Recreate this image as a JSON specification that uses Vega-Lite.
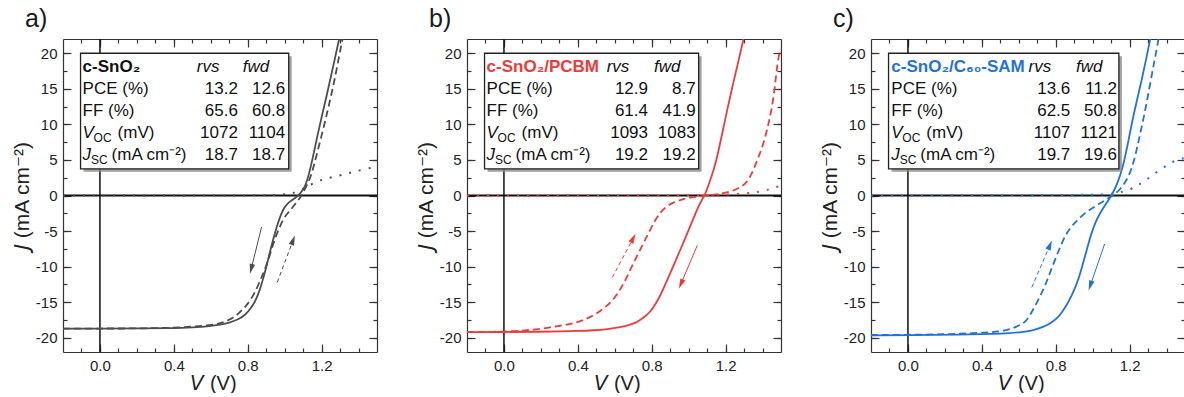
{
  "$schema": "https://vega.github.io/schema/vega-lite/v6.json",
  "padding": {"left": 11, "top": 7, "right": 0, "bottom": 0},
  "spacing": 37,
  "config": {
    "font": "Liberation Sans",
    "view": {"stroke": null},
    "axis": {"grid": false, "domainColor": "#333", "domainWidth": 1.2, "tickColor": "#333", "tickWidth": 1.2, "tickSize": -4, "labelPadding": 10, "labelFont": "Liberation Sans", "labelFontSize": 15, "labelColor": "#222", "labelOverlap": false, "labelFlush": false, "titleFont": "Liberation Sans", "titleFontWeight": "normal", "titleColor": "#222"},
    "axisX": {"titleFontSize": 20, "titlePadding": 0, "titleX": 150},
    "axisY": {"titleFontSize": 21, "titlePadding": 3},
    "title": {"anchor": "start", "frame": "group", "dx": -38, "fontSize": 25, "fontWeight": "normal", "font": "Liberation Sans", "color": "#1a1a1a", "offset": 6},
    "text": {"font": "Liberation Sans", "fontSize": 17, "baseline": "middle", "color": "#111"},
    "line": {"interpolate": "basis"}
  },
  "datasets": {
    "curves": [
      {"p":"a","s":"rvs","V":-0.2,"J":-18.7},{"p":"a","s":"rvs","V":0.0,"J":-18.7},{"p":"a","s":"rvs","V":0.2,"J":-18.7},{"p":"a","s":"rvs","V":0.4,"J":-18.65},{"p":"a","s":"rvs","V":0.5,"J":-18.55},{"p":"a","s":"rvs","V":0.6,"J":-18.35},{"p":"a","s":"rvs","V":0.65,"J":-18.15},{"p":"a","s":"rvs","V":0.7,"J":-17.9},{"p":"a","s":"rvs","V":0.75,"J":-17.4},{"p":"a","s":"rvs","V":0.785,"J":-16.85},{"p":"a","s":"rvs","V":0.82,"J":-15.8},{"p":"a","s":"rvs","V":0.848,"J":-14.5},{"p":"a","s":"rvs","V":0.866,"J":-13.2},{"p":"a","s":"rvs","V":0.884,"J":-11.7},{"p":"a","s":"rvs","V":0.902,"J":-9.9},{"p":"a","s":"rvs","V":0.92,"J":-7.95},{"p":"a","s":"rvs","V":0.94,"J":-6.0},{"p":"a","s":"rvs","V":0.957,"J":-4.4},{"p":"a","s":"rvs","V":0.975,"J":-3.0},{"p":"a","s":"rvs","V":0.993,"J":-1.87},{"p":"a","s":"rvs","V":1.015,"J":-1.1},{"p":"a","s":"rvs","V":1.038,"J":-0.7},{"p":"a","s":"rvs","V":1.056,"J":-0.35},{"p":"a","s":"rvs","V":1.074,"J":0.0},{"p":"a","s":"rvs","V":1.092,"J":0.55},{"p":"a","s":"rvs","V":1.11,"J":1.2},{"p":"a","s":"rvs","V":1.13,"J":2.8},{"p":"a","s":"rvs","V":1.15,"J":5.0},{"p":"a","s":"rvs","V":1.173,"J":7.9},{"p":"a","s":"rvs","V":1.2,"J":11.0},{"p":"a","s":"rvs","V":1.227,"J":14.0},{"p":"a","s":"rvs","V":1.26,"J":17.8},{"p":"a","s":"rvs","V":1.295,"J":22.0},{"p":"a","s":"rvs","V":1.31,"J":23.8},
      {"p":"a","s":"fwd","V":-0.2,"J":-18.7},{"p":"a","s":"fwd","V":0.0,"J":-18.7},{"p":"a","s":"fwd","V":0.2,"J":-18.7},{"p":"a","s":"fwd","V":0.4,"J":-18.6},{"p":"a","s":"fwd","V":0.5,"J":-18.45},{"p":"a","s":"fwd","V":0.6,"J":-18.2},{"p":"a","s":"fwd","V":0.65,"J":-18.0},{"p":"a","s":"fwd","V":0.7,"J":-17.5},{"p":"a","s":"fwd","V":0.74,"J":-16.85},{"p":"a","s":"fwd","V":0.77,"J":-16.1},{"p":"a","s":"fwd","V":0.794,"J":-15.45},{"p":"a","s":"fwd","V":0.83,"J":-14.1},{"p":"a","s":"fwd","V":0.857,"J":-12.6},{"p":"a","s":"fwd","V":0.88,"J":-11.2},{"p":"a","s":"fwd","V":0.902,"J":-9.8},{"p":"a","s":"fwd","V":0.925,"J":-7.9},{"p":"a","s":"fwd","V":0.947,"J":-6.1},{"p":"a","s":"fwd","V":0.97,"J":-4.6},{"p":"a","s":"fwd","V":0.993,"J":-3.3},{"p":"a","s":"fwd","V":1.015,"J":-2.5},{"p":"a","s":"fwd","V":1.038,"J":-1.87},{"p":"a","s":"fwd","V":1.056,"J":-1.2},{"p":"a","s":"fwd","V":1.074,"J":-0.65},{"p":"a","s":"fwd","V":1.088,"J":-0.15},{"p":"a","s":"fwd","V":1.101,"J":0.47},{"p":"a","s":"fwd","V":1.12,"J":1.4},{"p":"a","s":"fwd","V":1.137,"J":2.4},{"p":"a","s":"fwd","V":1.15,"J":3.4},{"p":"a","s":"fwd","V":1.17,"J":5.4},{"p":"a","s":"fwd","V":1.2,"J":8.4},{"p":"a","s":"fwd","V":1.227,"J":11.3},{"p":"a","s":"fwd","V":1.254,"J":14.3},{"p":"a","s":"fwd","V":1.28,"J":17.5},{"p":"a","s":"fwd","V":1.309,"J":21.5},{"p":"a","s":"fwd","V":1.325,"J":23.5},
      {"p":"a","s":"dark","V":-0.2,"J":0},{"p":"a","s":"dark","V":0.6,"J":0},{"p":"a","s":"dark","V":0.9,"J":0.02},{"p":"a","s":"dark","V":1.0,"J":0.12},{"p":"a","s":"dark","V":1.05,"J":0.35},{"p":"a","s":"dark","V":1.1,"J":0.9},{"p":"a","s":"dark","V":1.15,"J":1.7},{"p":"a","s":"dark","V":1.21,"J":2.3},{"p":"a","s":"dark","V":1.26,"J":2.6},{"p":"a","s":"dark","V":1.32,"J":2.95},{"p":"a","s":"dark","V":1.37,"J":3.3},{"p":"a","s":"dark","V":1.43,"J":3.7},{"p":"a","s":"dark","V":1.5,"J":4.05},
      {"p":"b","s":"rvs","V":-0.2,"J":-19.2},{"p":"b","s":"rvs","V":0.0,"J":-19.2},{"p":"b","s":"rvs","V":0.2,"J":-19.15},{"p":"b","s":"rvs","V":0.307,"J":-19.1},{"p":"b","s":"rvs","V":0.4,"J":-19.05},{"p":"b","s":"rvs","V":0.487,"J":-18.95},{"p":"b","s":"rvs","V":0.56,"J":-18.8},{"p":"b","s":"rvs","V":0.632,"J":-18.5},{"p":"b","s":"rvs","V":0.68,"J":-18.2},{"p":"b","s":"rvs","V":0.722,"J":-17.8},{"p":"b","s":"rvs","V":0.76,"J":-17.1},{"p":"b","s":"rvs","V":0.794,"J":-16.3},{"p":"b","s":"rvs","V":0.82,"J":-15.3},{"p":"b","s":"rvs","V":0.848,"J":-14.0},{"p":"b","s":"rvs","V":0.875,"J":-12.4},{"p":"b","s":"rvs","V":0.903,"J":-10.8},{"p":"b","s":"rvs","V":0.93,"J":-9.1},{"p":"b","s":"rvs","V":0.957,"J":-7.5},{"p":"b","s":"rvs","V":0.985,"J":-5.8},{"p":"b","s":"rvs","V":1.01,"J":-4.2},{"p":"b","s":"rvs","V":1.03,"J":-3.0},{"p":"b","s":"rvs","V":1.047,"J":-1.87},{"p":"b","s":"rvs","V":1.065,"J":-0.95},{"p":"b","s":"rvs","V":1.09,"J":0.2},{"p":"b","s":"rvs","V":1.11,"J":1.6},{"p":"b","s":"rvs","V":1.137,"J":3.7},{"p":"b","s":"rvs","V":1.155,"J":5.5},{"p":"b","s":"rvs","V":1.18,"J":8.5},{"p":"b","s":"rvs","V":1.21,"J":12.2},{"p":"b","s":"rvs","V":1.237,"J":15.3},{"p":"b","s":"rvs","V":1.264,"J":18.3},{"p":"b","s":"rvs","V":1.3,"J":22.3},{"p":"b","s":"rvs","V":1.31,"J":23.5},
      {"p":"b","s":"fwd","V":-0.2,"J":-19.2},{"p":"b","s":"fwd","V":0.0,"J":-19.15},{"p":"b","s":"fwd","V":0.1,"J":-19.0},{"p":"b","s":"fwd","V":0.2,"J":-18.75},{"p":"b","s":"fwd","V":0.307,"J":-18.3},{"p":"b","s":"fwd","V":0.397,"J":-17.9},{"p":"b","s":"fwd","V":0.487,"J":-16.9},{"p":"b","s":"fwd","V":0.56,"J":-15.5},{"p":"b","s":"fwd","V":0.6,"J":-14.4},{"p":"b","s":"fwd","V":0.632,"J":-13.1},{"p":"b","s":"fwd","V":0.66,"J":-11.8},{"p":"b","s":"fwd","V":0.686,"J":-10.3},{"p":"b","s":"fwd","V":0.713,"J":-8.9},{"p":"b","s":"fwd","V":0.74,"J":-7.5},{"p":"b","s":"fwd","V":0.767,"J":-6.1},{"p":"b","s":"fwd","V":0.794,"J":-4.7},{"p":"b","s":"fwd","V":0.82,"J":-3.4},{"p":"b","s":"fwd","V":0.848,"J":-2.34},{"p":"b","s":"fwd","V":0.88,"J":-1.5},{"p":"b","s":"fwd","V":0.92,"J":-0.94},{"p":"b","s":"fwd","V":0.96,"J":-0.6},{"p":"b","s":"fwd","V":0.993,"J":-0.37},{"p":"b","s":"fwd","V":1.04,"J":-0.2},{"p":"b","s":"fwd","V":1.083,"J":-0.05},{"p":"b","s":"fwd","V":1.13,"J":0.1},{"p":"b","s":"fwd","V":1.173,"J":0.25},{"p":"b","s":"fwd","V":1.22,"J":0.5},{"p":"b","s":"fwd","V":1.264,"J":0.94},{"p":"b","s":"fwd","V":1.295,"J":1.4},{"p":"b","s":"fwd","V":1.318,"J":1.95},{"p":"b","s":"fwd","V":1.336,"J":2.8},{"p":"b","s":"fwd","V":1.354,"J":3.8},{"p":"b","s":"fwd","V":1.38,"J":5.5},{"p":"b","s":"fwd","V":1.408,"J":7.5},{"p":"b","s":"fwd","V":1.43,"J":9.8},{"p":"b","s":"fwd","V":1.453,"J":12.6},{"p":"b","s":"fwd","V":1.468,"J":15.5},{"p":"b","s":"fwd","V":1.48,"J":18.5},{"p":"b","s":"fwd","V":1.495,"J":20.5},
      {"p":"b","s":"dark","V":-0.2,"J":0},{"p":"b","s":"dark","V":1.2,"J":0.02},{"p":"b","s":"dark","V":1.28,"J":0.25},{"p":"b","s":"dark","V":1.35,"J":0.4},{"p":"b","s":"dark","V":1.41,"J":0.65},{"p":"b","s":"dark","V":1.45,"J":1.0},{"p":"b","s":"dark","V":1.495,"J":1.35},
      {"p":"c","s":"rvs","V":-0.2,"J":-19.65},{"p":"c","s":"rvs","V":0.0,"J":-19.65},{"p":"c","s":"rvs","V":0.292,"J":-19.55},{"p":"c","s":"rvs","V":0.473,"J":-19.45},{"p":"c","s":"rvs","V":0.55,"J":-19.35},{"p":"c","s":"rvs","V":0.617,"J":-19.2},{"p":"c","s":"rvs","V":0.67,"J":-19.0},{"p":"c","s":"rvs","V":0.708,"J":-18.7},{"p":"c","s":"rvs","V":0.75,"J":-18.3},{"p":"c","s":"rvs","V":0.78,"J":-17.8},{"p":"c","s":"rvs","V":0.81,"J":-17.2},{"p":"c","s":"rvs","V":0.834,"J":-16.4},{"p":"c","s":"rvs","V":0.86,"J":-15.4},{"p":"c","s":"rvs","V":0.888,"J":-14.0},{"p":"c","s":"rvs","V":0.906,"J":-12.9},{"p":"c","s":"rvs","V":0.924,"J":-11.7},{"p":"c","s":"rvs","V":0.942,"J":-10.1},{"p":"c","s":"rvs","V":0.96,"J":-8.4},{"p":"c","s":"rvs","V":0.978,"J":-6.7},{"p":"c","s":"rvs","V":0.996,"J":-5.1},{"p":"c","s":"rvs","V":1.015,"J":-3.8},{"p":"c","s":"rvs","V":1.033,"J":-2.8},{"p":"c","s":"rvs","V":1.055,"J":-1.85},{"p":"c","s":"rvs","V":1.078,"J":-0.94},{"p":"c","s":"rvs","V":1.105,"J":0.1},{"p":"c","s":"rvs","V":1.132,"J":1.6},{"p":"c","s":"rvs","V":1.15,"J":2.9},{"p":"c","s":"rvs","V":1.168,"J":4.5},{"p":"c","s":"rvs","V":1.19,"J":7.2},{"p":"c","s":"rvs","V":1.213,"J":10.3},{"p":"c","s":"rvs","V":1.24,"J":13.4},{"p":"c","s":"rvs","V":1.267,"J":16.4},{"p":"c","s":"rvs","V":1.29,"J":19.2},{"p":"c","s":"rvs","V":1.312,"J":22.0},{"p":"c","s":"rvs","V":1.32,"J":23.2},
      {"p":"c","s":"fwd","V":-0.2,"J":-19.6},{"p":"c","s":"fwd","V":0.0,"J":-19.6},{"p":"c","s":"fwd","V":0.292,"J":-19.45},{"p":"c","s":"fwd","V":0.473,"J":-19.2},{"p":"c","s":"fwd","V":0.52,"J":-19.0},{"p":"c","s":"fwd","V":0.563,"J":-18.7},{"p":"c","s":"fwd","V":0.6,"J":-18.3},{"p":"c","s":"fwd","V":0.635,"J":-17.8},{"p":"c","s":"fwd","V":0.66,"J":-16.9},{"p":"c","s":"fwd","V":0.69,"J":-15.45},{"p":"c","s":"fwd","V":0.717,"J":-14.1},{"p":"c","s":"fwd","V":0.744,"J":-12.6},{"p":"c","s":"fwd","V":0.77,"J":-10.8},{"p":"c","s":"fwd","V":0.798,"J":-8.9},{"p":"c","s":"fwd","V":0.825,"J":-7.2},{"p":"c","s":"fwd","V":0.852,"J":-5.6},{"p":"c","s":"fwd","V":0.88,"J":-4.5},{"p":"c","s":"fwd","V":0.906,"J":-3.75},{"p":"c","s":"fwd","V":0.94,"J":-2.9},{"p":"c","s":"fwd","V":0.978,"J":-2.1},{"p":"c","s":"fwd","V":1.015,"J":-1.5},{"p":"c","s":"fwd","V":1.05,"J":-0.94},{"p":"c","s":"fwd","V":1.085,"J":-0.4},{"p":"c","s":"fwd","V":1.122,"J":0.23},{"p":"c","s":"fwd","V":1.15,"J":0.9},{"p":"c","s":"fwd","V":1.177,"J":1.88},{"p":"c","s":"fwd","V":1.2,"J":3.0},{"p":"c","s":"fwd","V":1.22,"J":4.5},{"p":"c","s":"fwd","V":1.24,"J":6.6},{"p":"c","s":"fwd","V":1.26,"J":9.0},{"p":"c","s":"fwd","V":1.285,"J":12.0},{"p":"c","s":"fwd","V":1.31,"J":15.5},{"p":"c","s":"fwd","V":1.335,"J":19.0},{"p":"c","s":"fwd","V":1.357,"J":22.0},{"p":"c","s":"fwd","V":1.365,"J":23.3},
      {"p":"c","s":"dark","V":-0.2,"J":0},{"p":"c","s":"dark","V":1.0,"J":0.05},{"p":"c","s":"dark","V":1.1,"J":0.2},{"p":"c","s":"dark","V":1.16,"J":0.5},{"p":"c","s":"dark","V":1.21,"J":0.9},{"p":"c","s":"dark","V":1.24,"J":1.4},{"p":"c","s":"dark","V":1.27,"J":1.8},{"p":"c","s":"dark","V":1.3,"J":2.4},{"p":"c","s":"dark","V":1.33,"J":3.0},{"p":"c","s":"dark","V":1.375,"J":3.75},{"p":"c","s":"dark","V":1.415,"J":4.5},{"p":"c","s":"dark","V":1.456,"J":5.0},{"p":"c","s":"dark","V":1.5,"J":5.3}
    ],
    "arrows": [
      {"p":"a","k":"rvs","o":0,"V":0.875,"J":-4.44},{"p":"a","k":"rvs","o":1,"V":0.819,"J":-10.32},
      {"p":"a","k":"fwd","o":0,"V":0.96,"J":-12.2},{"p":"a","k":"fwd","o":1,"V":1.046,"J":-6.28},
      {"p":"b","k":"rvs","o":0,"V":1.047,"J":-7.0},{"p":"b","k":"rvs","o":1,"V":0.958,"J":-12.46},
      {"p":"b","k":"fwd","o":0,"V":0.587,"J":-11.5},{"p":"b","k":"fwd","o":1,"V":0.7,"J":-6.0},
      {"p":"c","k":"rvs","o":0,"V":1.065,"J":-6.8},{"p":"c","k":"rvs","o":1,"V":0.987,"J":-12.68},
      {"p":"c","k":"fwd","o":0,"V":0.671,"J":-12.9},{"p":"c","k":"fwd","o":1,"V":0.769,"J":-6.97}
    ],
    "tables": [
      {"p":"a","m":"head","name":"c-SnO₂"},
      {"p":"a","m":"PCE","label":"PCE (%)","rvs":"13.2","fwd":"12.6"},
      {"p":"a","m":"FF","label":"FF (%)","rvs":"65.6","fwd":"60.8"},
      {"p":"a","m":"VOC","sym":"V","sub":"OC","unit":"(mV)","rvs":"1072","fwd":"1104"},
      {"p":"a","m":"JSC","sym":"J","sub":"SC","unit":"(mA cm⁻²)","rvs":"18.7","fwd":"18.7"},
      {"p":"b","m":"head","name":"c-SnO₂/PCBM"},
      {"p":"b","m":"PCE","label":"PCE (%)","rvs":"12.9","fwd":"8.7"},
      {"p":"b","m":"FF","label":"FF (%)","rvs":"61.4","fwd":"41.9"},
      {"p":"b","m":"VOC","sym":"V","sub":"OC","unit":"(mV)","rvs":"1093","fwd":"1083"},
      {"p":"b","m":"JSC","sym":"J","sub":"SC","unit":"(mA cm⁻²)","rvs":"19.2","fwd":"19.2"},
      {"p":"c","m":"head","name":"c-SnO₂/C₆₀-SAM"},
      {"p":"c","m":"PCE","label":"PCE (%)","rvs":"13.6","fwd":"11.2"},
      {"p":"c","m":"FF","label":"FF (%)","rvs":"62.5","fwd":"50.8"},
      {"p":"c","m":"VOC","sym":"V","sub":"OC","unit":"(mV)","rvs":"1107","fwd":"1121"},
      {"p":"c","m":"JSC","sym":"J","sub":"SC","unit":"(mA cm⁻²)","rvs":"19.7","fwd":"19.6"}
    ]
  },
  "hconcat": [
    {
      "width": 314, "height": 313,
      "title": {"text": "a)"},
      "resolve": {"scale": {"y": "independent"}, "axis": {"x": "independent", "y": "independent"}},
      "layer": [
        {
          "resolve": {"axis": {"x": "independent", "y": "independent"}},
          "layer": [
            {"data": {"values": [{}]}, "mark": {"type": "rule", "color": "#111", "strokeWidth": 2}, "encoding": {"y": {"datum": 0, "type": "quantitative", "axis": null, "scale": {"domain": [-22, 22], "nice": false, "zero": false}}}},
            {"data": {"values": [{}]}, "mark": {"type": "rule", "color": "#111", "strokeWidth": 1.5}, "encoding": {"x": {"datum": 0, "type": "quantitative", "axis": null, "scale": {"domain": [-0.2, 1.5], "nice": false, "zero": false}}}},
            {"data": {"name": "curves"}, "transform": [{"filter": "datum.p == 'a' && datum.s == 'dark'"}], "mark": {"type": "line", "clip": true, "color": "#4d4d4d", "strokeWidth": 2, "strokeDash": [2, 8]}, "encoding": {"x": {"field": "V", "type": "quantitative", "axis": {"orient": "bottom", "values": [0, 0.4, 0.8, 1.2], "tickSize": -8, "labels": false, "domain": false, "title": null}}, "y": {"field": "J", "type": "quantitative", "axis": {"orient": "left", "values": [-20,-15,-10,-5,0,5,10,15,20], "tickSize": -8, "labels": false, "domain": false, "title": null}}}},
            {"data": {"name": "curves"}, "transform": [{"filter": "datum.p == 'a' && datum.s == 'fwd'"}], "mark": {"type": "line", "clip": true, "color": "#4d4d4d", "strokeWidth": 1.8, "strokeDash": [7, 4]}, "encoding": {"x": {"field": "V", "type": "quantitative", "axis": {"orient": "top", "values": [-0.1,0,0.1,0.2,0.3,0.4,0.5,0.6,0.7,0.8,0.9,1,1.1,1.2,1.3,1.4], "labels": false, "title": null}}, "y": {"field": "J", "type": "quantitative", "axis": {"orient": "right", "values": [-20,-17.5,-15,-12.5,-10,-7.5,-5,-2.5,0,2.5,5,7.5,10,12.5,15,17.5,20], "labels": false, "title": null}}}},
            {"data": {"name": "curves"}, "transform": [{"filter": "datum.p == 'a' && datum.s == 'rvs'"}], "mark": {"type": "line", "clip": true, "color": "#4d4d4d", "strokeWidth": 1.8}, "encoding": {"x": {"field": "V", "type": "quantitative", "scale": {"domain": [-0.2, 1.5], "nice": false, "zero": false}, "axis": {"orient": "bottom", "values": [-0.1,0,0.1,0.2,0.3,0.4,0.5,0.6,0.7,0.8,0.9,1,1.1,1.2,1.3,1.4], "labelExpr": "round(datum.value*10) % 4 == 0 ? format(datum.value, '.1f') : ''", "title": "𝘝 (V)"}}, "y": {"field": "J", "type": "quantitative", "scale": {"domain": [-22, 22], "nice": false, "zero": false}, "axis": {"orient": "left", "values": [-20,-17.5,-15,-12.5,-10,-7.5,-5,-2.5,0,2.5,5,7.5,10,12.5,15,17.5,20], "labelExpr": "datum.value % 5 == 0 ? toString(datum.value) : ''", "title": "𝘑 (mA cm⁻²)"}}}},
            {"data": {"name": "arrows"}, "transform": [{"filter": "datum.p == 'a' && datum.k == 'rvs'"}], "mark": {"type": "line", "interpolate": "linear", "color": "#4d4d4d", "strokeWidth": 1}, "encoding": {"x": {"field": "V", "type": "quantitative", "axis": {"orient": "top", "values": [0, 0.4, 0.8, 1.2], "tickSize": -8, "labels": false, "domain": false, "title": null}}, "y": {"field": "J", "type": "quantitative", "axis": {"orient": "right", "values": [-20,-15,-10,-5,0,5,10,15,20], "tickSize": -8, "labels": false, "domain": false, "title": null}}, "order": {"field": "o"}}},
            {"data": {"name": "arrows"}, "transform": [{"filter": "datum.p == 'a' && datum.k == 'fwd'"}], "mark": {"type": "line", "interpolate": "linear", "color": "#4d4d4d", "strokeWidth": 1, "strokeDash": [4, 3]}, "encoding": {"x": {"field": "V", "type": "quantitative", "axis": null}, "y": {"field": "J", "type": "quantitative", "axis": null}, "order": {"field": "o"}}},
            {"data": {"name": "arrows"}, "transform": [{"filter": "datum.p == 'a' && datum.k == 'rvs' && datum.o == 1"}], "mark": {"type": "point", "shape": "M0,-1L0.55,1L-0.55,1Z", "filled": true, "opacity": 1, "color": "#4d4d4d", "size": 100, "angle": 194}, "encoding": {"x": {"field": "V", "type": "quantitative", "axis": null}, "y": {"field": "J", "type": "quantitative", "axis": null}}},
            {"data": {"name": "arrows"}, "transform": [{"filter": "datum.p == 'a' && datum.k == 'fwd' && datum.o == 1"}], "mark": {"type": "point", "shape": "M0,-1L0.55,1L-0.55,1Z", "filled": true, "opacity": 1, "color": "#4d4d4d", "size": 100, "angle": 21}, "encoding": {"x": {"field": "V", "type": "quantitative", "axis": null}, "y": {"field": "J", "type": "quantitative", "axis": null}}},
            {"data": {"values": [{}]}, "mark": {"type": "rect", "fill": "#8a8a8a", "opacity": 0.8, "xOffset": 3, "x2Offset": 3, "yOffset": 3, "y2Offset": 3}, "encoding": {"x": {"datum": -0.105, "type": "quantitative", "axis": null}, "x2": {"datum": 1.022}, "y": {"datum": 20.0, "type": "quantitative", "axis": null}, "y2": {"datum": 3.75}}},
            {"data": {"values": [{}]}, "mark": {"type": "rect", "fill": "#ffffff", "stroke": "#222", "strokeWidth": 1.3}, "encoding": {"x": {"datum": -0.105, "type": "quantitative", "axis": null}, "x2": {"datum": 1.022}, "y": {"datum": 20.0, "type": "quantitative", "axis": null}, "y2": {"datum": 3.75}}}
          ]
        },
        {
          "data": {"name": "tables"},
          "transform": [{"filter": "datum.p == 'a'"}],
          "encoding": {"y": {"field": "m", "type": "ordinal", "scale": {"type": "point", "domain": ["head","PCE","FF","VOC","JSC"], "range": [28, 116], "padding": 0}, "axis": null}},
          "layer": [
            {"transform": [{"filter": "datum.m == 'head'"}], "mark": {"type": "text", "align": "left", "fontWeight": "bold", "color": "#111"}, "encoding": {"x": {"datum": -0.094, "type": "quantitative", "axis": null}, "text": {"field": "name", "type": "nominal"}}},
            {"transform": [{"filter": "datum.m == 'head'"}], "mark": {"type": "text", "align": "left", "fontStyle": "italic"}, "encoding": {"x": {"datum": 0.524, "type": "quantitative", "axis": null}, "text": {"value": "rvs"}}},
            {"transform": [{"filter": "datum.m == 'head'"}], "mark": {"type": "text", "align": "left", "fontStyle": "italic"}, "encoding": {"x": {"datum": 0.773, "type": "quantitative", "axis": null}, "text": {"value": "fwd"}}},
            {"transform": [{"filter": "isValid(datum.label)"}], "mark": {"type": "text", "align": "left"}, "encoding": {"x": {"datum": -0.094, "type": "quantitative", "axis": null}, "text": {"field": "label", "type": "nominal"}}},
            {"transform": [{"filter": "isValid(datum.sym)"}], "mark": {"type": "text", "align": "left", "fontStyle": "italic"}, "encoding": {"x": {"datum": -0.094, "type": "quantitative", "axis": null}, "text": {"field": "sym", "type": "nominal"}}},
            {"transform": [{"filter": "datum.m == 'VOC'"}], "mark": {"type": "text", "align": "left", "fontSize": 12, "dx": 11, "dy": 5}, "encoding": {"x": {"datum": -0.094, "type": "quantitative", "axis": null}, "text": {"field": "sub", "type": "nominal"}}},
            {"transform": [{"filter": "datum.m == 'JSC'"}], "mark": {"type": "text", "align": "left", "fontSize": 12, "dx": 8.5, "dy": 5}, "encoding": {"x": {"datum": -0.094, "type": "quantitative", "axis": null}, "text": {"field": "sub", "type": "nominal"}}},
            {"transform": [{"filter": "datum.m == 'VOC'"}], "mark": {"type": "text", "align": "left", "dx": 35}, "encoding": {"x": {"datum": -0.094, "type": "quantitative", "axis": null}, "text": {"field": "unit", "type": "nominal"}}},
            {"transform": [{"filter": "datum.m == 'JSC'"}], "mark": {"type": "text", "align": "left", "dx": 29}, "encoding": {"x": {"datum": -0.094, "type": "quantitative", "axis": null}, "text": {"field": "unit", "type": "nominal"}}},
            {"transform": [{"filter": "datum.m != 'head'"}], "mark": {"type": "text", "align": "right"}, "encoding": {"x": {"datum": 0.747, "type": "quantitative", "axis": null}, "text": {"field": "rvs", "type": "nominal"}}},
            {"transform": [{"filter": "datum.m != 'head'"}], "mark": {"type": "text", "align": "right"}, "encoding": {"x": {"datum": 1.003, "type": "quantitative", "axis": null}, "text": {"field": "fwd", "type": "nominal"}}}
          ]
        }
      ]
    },
    {
      "width": 314, "height": 313,
      "title": {"text": "b)"},
      "resolve": {"scale": {"y": "independent"}, "axis": {"x": "independent", "y": "independent"}},
      "layer": [
        {
          "resolve": {"axis": {"x": "independent", "y": "independent"}},
          "layer": [
            {"data": {"values": [{}]}, "mark": {"type": "rule", "color": "#111", "strokeWidth": 2}, "encoding": {"y": {"datum": 0, "type": "quantitative", "axis": null, "scale": {"domain": [-22, 22], "nice": false, "zero": false}}}},
            {"data": {"values": [{}]}, "mark": {"type": "rule", "color": "#111", "strokeWidth": 1.5}, "encoding": {"x": {"datum": 0, "type": "quantitative", "axis": null, "scale": {"domain": [-0.2, 1.5], "nice": false, "zero": false}}}},
            {"data": {"name": "curves"}, "transform": [{"filter": "datum.p == 'b' && datum.s == 'dark'"}], "mark": {"type": "line", "clip": true, "color": "#ec3b3b", "strokeWidth": 2, "strokeDash": [2, 8]}, "encoding": {"x": {"field": "V", "type": "quantitative", "axis": {"orient": "bottom", "values": [0, 0.4, 0.8, 1.2], "tickSize": -8, "labels": false, "domain": false, "title": null}}, "y": {"field": "J", "type": "quantitative", "axis": {"orient": "left", "values": [-20,-15,-10,-5,0,5,10,15,20], "tickSize": -8, "labels": false, "domain": false, "title": null}}}},
            {"data": {"name": "curves"}, "transform": [{"filter": "datum.p == 'b' && datum.s == 'fwd'"}], "mark": {"type": "line", "clip": true, "color": "#ec3b3b", "strokeWidth": 1.8, "strokeDash": [7, 4]}, "encoding": {"x": {"field": "V", "type": "quantitative", "axis": {"orient": "top", "values": [-0.1,0,0.1,0.2,0.3,0.4,0.5,0.6,0.7,0.8,0.9,1,1.1,1.2,1.3,1.4], "labels": false, "title": null}}, "y": {"field": "J", "type": "quantitative", "axis": {"orient": "right", "values": [-20,-17.5,-15,-12.5,-10,-7.5,-5,-2.5,0,2.5,5,7.5,10,12.5,15,17.5,20], "labels": false, "title": null}}}},
            {"data": {"name": "curves"}, "transform": [{"filter": "datum.p == 'b' && datum.s == 'rvs'"}], "mark": {"type": "line", "clip": true, "color": "#ec3b3b", "strokeWidth": 1.8}, "encoding": {"x": {"field": "V", "type": "quantitative", "scale": {"domain": [-0.2, 1.5], "nice": false, "zero": false}, "axis": {"orient": "bottom", "values": [-0.1,0,0.1,0.2,0.3,0.4,0.5,0.6,0.7,0.8,0.9,1,1.1,1.2,1.3,1.4], "labelExpr": "round(datum.value*10) % 4 == 0 ? format(datum.value, '.1f') : ''", "title": "𝘝 (V)"}}, "y": {"field": "J", "type": "quantitative", "scale": {"domain": [-22, 22], "nice": false, "zero": false}, "axis": {"orient": "left", "values": [-20,-17.5,-15,-12.5,-10,-7.5,-5,-2.5,0,2.5,5,7.5,10,12.5,15,17.5,20], "labelExpr": "datum.value % 5 == 0 ? toString(datum.value) : ''", "title": "𝘑 (mA cm⁻²)"}}}},
            {"data": {"name": "arrows"}, "transform": [{"filter": "datum.p == 'b' && datum.k == 'rvs'"}], "mark": {"type": "line", "interpolate": "linear", "color": "#ec3b3b", "strokeWidth": 1}, "encoding": {"x": {"field": "V", "type": "quantitative", "axis": {"orient": "top", "values": [0, 0.4, 0.8, 1.2], "tickSize": -8, "labels": false, "domain": false, "title": null}}, "y": {"field": "J", "type": "quantitative", "axis": {"orient": "right", "values": [-20,-15,-10,-5,0,5,10,15,20], "tickSize": -8, "labels": false, "domain": false, "title": null}}, "order": {"field": "o"}}},
            {"data": {"name": "arrows"}, "transform": [{"filter": "datum.p == 'b' && datum.k == 'fwd'"}], "mark": {"type": "line", "interpolate": "linear", "color": "#ec3b3b", "strokeWidth": 1, "strokeDash": [4, 3]}, "encoding": {"x": {"field": "V", "type": "quantitative", "axis": null}, "y": {"field": "J", "type": "quantitative", "axis": null}, "order": {"field": "o"}}},
            {"data": {"name": "arrows"}, "transform": [{"filter": "datum.p == 'b' && datum.k == 'rvs' && datum.o == 1"}], "mark": {"type": "point", "shape": "M0,-1L0.55,1L-0.55,1Z", "filled": true, "opacity": 1, "color": "#ec3b3b", "size": 100, "angle": 203}, "encoding": {"x": {"field": "V", "type": "quantitative", "axis": null}, "y": {"field": "J", "type": "quantitative", "axis": null}}},
            {"data": {"name": "arrows"}, "transform": [{"filter": "datum.p == 'b' && datum.k == 'fwd' && datum.o == 1"}], "mark": {"type": "point", "shape": "M0,-1L0.55,1L-0.55,1Z", "filled": true, "opacity": 1, "color": "#ec3b3b", "size": 100, "angle": 28}, "encoding": {"x": {"field": "V", "type": "quantitative", "axis": null}, "y": {"field": "J", "type": "quantitative", "axis": null}}},
            {"data": {"values": [{}]}, "mark": {"type": "rect", "fill": "#8a8a8a", "opacity": 0.8, "xOffset": 3, "x2Offset": 3, "yOffset": 3, "y2Offset": 3}, "encoding": {"x": {"datum": -0.105, "type": "quantitative", "axis": null}, "x2": {"datum": 1.054}, "y": {"datum": 20.0, "type": "quantitative", "axis": null}, "y2": {"datum": 3.75}}},
            {"data": {"values": [{}]}, "mark": {"type": "rect", "fill": "#ffffff", "stroke": "#222", "strokeWidth": 1.3}, "encoding": {"x": {"datum": -0.105, "type": "quantitative", "axis": null}, "x2": {"datum": 1.054}, "y": {"datum": 20.0, "type": "quantitative", "axis": null}, "y2": {"datum": 3.75}}}
          ]
        },
        {
          "data": {"name": "tables"},
          "transform": [{"filter": "datum.p == 'b'"}],
          "encoding": {"y": {"field": "m", "type": "ordinal", "scale": {"type": "point", "domain": ["head","PCE","FF","VOC","JSC"], "range": [28, 116], "padding": 0}, "axis": null}},
          "layer": [
            {"transform": [{"filter": "datum.m == 'head'"}], "mark": {"type": "text", "align": "left", "fontWeight": "bold", "color": "#ec3b3b"}, "encoding": {"x": {"datum": -0.094, "type": "quantitative", "axis": null}, "text": {"field": "name", "type": "nominal"}}},
            {"transform": [{"filter": "datum.m == 'head'"}], "mark": {"type": "text", "align": "left", "fontStyle": "italic"}, "encoding": {"x": {"datum": 0.556, "type": "quantitative", "axis": null}, "text": {"value": "rvs"}}},
            {"transform": [{"filter": "datum.m == 'head'"}], "mark": {"type": "text", "align": "left", "fontStyle": "italic"}, "encoding": {"x": {"datum": 0.812, "type": "quantitative", "axis": null}, "text": {"value": "fwd"}}},
            {"transform": [{"filter": "isValid(datum.label)"}], "mark": {"type": "text", "align": "left"}, "encoding": {"x": {"datum": -0.094, "type": "quantitative", "axis": null}, "text": {"field": "label", "type": "nominal"}}},
            {"transform": [{"filter": "isValid(datum.sym)"}], "mark": {"type": "text", "align": "left", "fontStyle": "italic"}, "encoding": {"x": {"datum": -0.094, "type": "quantitative", "axis": null}, "text": {"field": "sym", "type": "nominal"}}},
            {"transform": [{"filter": "datum.m == 'VOC'"}], "mark": {"type": "text", "align": "left", "fontSize": 12, "dx": 11, "dy": 5}, "encoding": {"x": {"datum": -0.094, "type": "quantitative", "axis": null}, "text": {"field": "sub", "type": "nominal"}}},
            {"transform": [{"filter": "datum.m == 'JSC'"}], "mark": {"type": "text", "align": "left", "fontSize": 12, "dx": 8.5, "dy": 5}, "encoding": {"x": {"datum": -0.094, "type": "quantitative", "axis": null}, "text": {"field": "sub", "type": "nominal"}}},
            {"transform": [{"filter": "datum.m == 'VOC'"}], "mark": {"type": "text", "align": "left", "dx": 35}, "encoding": {"x": {"datum": -0.094, "type": "quantitative", "axis": null}, "text": {"field": "unit", "type": "nominal"}}},
            {"transform": [{"filter": "datum.m == 'JSC'"}], "mark": {"type": "text", "align": "left", "dx": 29}, "encoding": {"x": {"datum": -0.094, "type": "quantitative", "axis": null}, "text": {"field": "unit", "type": "nominal"}}},
            {"transform": [{"filter": "datum.m != 'head'"}], "mark": {"type": "text", "align": "right"}, "encoding": {"x": {"datum": 0.78, "type": "quantitative", "axis": null}, "text": {"field": "rvs", "type": "nominal"}}},
            {"transform": [{"filter": "datum.m != 'head'"}], "mark": {"type": "text", "align": "right"}, "encoding": {"x": {"datum": 1.038, "type": "quantitative", "axis": null}, "text": {"field": "fwd", "type": "nominal"}}}
          ]
        }
      ]
    },
    {
      "width": 314, "height": 313,
      "title": {"text": "c)"},
      "resolve": {"scale": {"y": "independent"}, "axis": {"x": "independent", "y": "independent"}},
      "layer": [
        {
          "resolve": {"axis": {"x": "independent", "y": "independent"}},
          "layer": [
            {"data": {"values": [{}]}, "mark": {"type": "rule", "color": "#111", "strokeWidth": 2}, "encoding": {"y": {"datum": 0, "type": "quantitative", "axis": null, "scale": {"domain": [-22, 22], "nice": false, "zero": false}}}},
            {"data": {"values": [{}]}, "mark": {"type": "rule", "color": "#111", "strokeWidth": 1.5}, "encoding": {"x": {"datum": 0, "type": "quantitative", "axis": null, "scale": {"domain": [-0.2, 1.5], "nice": false, "zero": false}}}},
            {"data": {"name": "curves"}, "transform": [{"filter": "datum.p == 'c' && datum.s == 'dark'"}], "mark": {"type": "line", "clip": true, "color": "#1f72db", "strokeWidth": 2, "strokeDash": [2, 8]}, "encoding": {"x": {"field": "V", "type": "quantitative", "axis": {"orient": "bottom", "values": [0, 0.4, 0.8, 1.2], "tickSize": -8, "labels": false, "domain": false, "title": null}}, "y": {"field": "J", "type": "quantitative", "axis": {"orient": "left", "values": [-20,-15,-10,-5,0,5,10,15,20], "tickSize": -8, "labels": false, "domain": false, "title": null}}}},
            {"data": {"name": "curves"}, "transform": [{"filter": "datum.p == 'c' && datum.s == 'fwd'"}], "mark": {"type": "line", "clip": true, "color": "#1f72db", "strokeWidth": 1.8, "strokeDash": [7, 4]}, "encoding": {"x": {"field": "V", "type": "quantitative", "axis": {"orient": "top", "values": [-0.1,0,0.1,0.2,0.3,0.4,0.5,0.6,0.7,0.8,0.9,1,1.1,1.2,1.3,1.4], "labels": false, "title": null}}, "y": {"field": "J", "type": "quantitative", "axis": {"orient": "right", "values": [-20,-17.5,-15,-12.5,-10,-7.5,-5,-2.5,0,2.5,5,7.5,10,12.5,15,17.5,20], "labels": false, "title": null}}}},
            {"data": {"name": "curves"}, "transform": [{"filter": "datum.p == 'c' && datum.s == 'rvs'"}], "mark": {"type": "line", "clip": true, "color": "#1f72db", "strokeWidth": 1.8}, "encoding": {"x": {"field": "V", "type": "quantitative", "scale": {"domain": [-0.2, 1.5], "nice": false, "zero": false}, "axis": {"orient": "bottom", "values": [-0.1,0,0.1,0.2,0.3,0.4,0.5,0.6,0.7,0.8,0.9,1,1.1,1.2,1.3,1.4], "labelExpr": "round(datum.value*10) % 4 == 0 ? format(datum.value, '.1f') : ''", "title": "𝘝 (V)"}}, "y": {"field": "J", "type": "quantitative", "scale": {"domain": [-22, 22], "nice": false, "zero": false}, "axis": {"orient": "left", "values": [-20,-17.5,-15,-12.5,-10,-7.5,-5,-2.5,0,2.5,5,7.5,10,12.5,15,17.5,20], "labelExpr": "datum.value % 5 == 0 ? toString(datum.value) : ''", "title": "𝘑 (mA cm⁻²)"}}}},
            {"data": {"name": "arrows"}, "transform": [{"filter": "datum.p == 'c' && datum.k == 'rvs'"}], "mark": {"type": "line", "interpolate": "linear", "color": "#1f72db", "strokeWidth": 1}, "encoding": {"x": {"field": "V", "type": "quantitative", "axis": {"orient": "top", "values": [0, 0.4, 0.8, 1.2], "tickSize": -8, "labels": false, "domain": false, "title": null}}, "y": {"field": "J", "type": "quantitative", "axis": {"orient": "right", "values": [-20,-15,-10,-5,0,5,10,15,20], "tickSize": -8, "labels": false, "domain": false, "title": null}}, "order": {"field": "o"}}},
            {"data": {"name": "arrows"}, "transform": [{"filter": "datum.p == 'c' && datum.k == 'fwd'"}], "mark": {"type": "line", "interpolate": "linear", "color": "#1f72db", "strokeWidth": 1, "strokeDash": [4, 3]}, "encoding": {"x": {"field": "V", "type": "quantitative", "axis": null}, "y": {"field": "J", "type": "quantitative", "axis": null}, "order": {"field": "o"}}},
            {"data": {"name": "arrows"}, "transform": [{"filter": "datum.p == 'c' && datum.k == 'rvs' && datum.o == 1"}], "mark": {"type": "point", "shape": "M0,-1L0.55,1L-0.55,1Z", "filled": true, "opacity": 1, "color": "#1f72db", "size": 100, "angle": 199}, "encoding": {"x": {"field": "V", "type": "quantitative", "axis": null}, "y": {"field": "J", "type": "quantitative", "axis": null}}},
            {"data": {"name": "arrows"}, "transform": [{"filter": "datum.p == 'c' && datum.k == 'fwd' && datum.o == 1"}], "mark": {"type": "point", "shape": "M0,-1L0.55,1L-0.55,1Z", "filled": true, "opacity": 1, "color": "#1f72db", "size": 100, "angle": 23}, "encoding": {"x": {"field": "V", "type": "quantitative", "axis": null}, "y": {"field": "J", "type": "quantitative", "axis": null}}},
            {"data": {"values": [{}]}, "mark": {"type": "rect", "fill": "#8a8a8a", "opacity": 0.8, "xOffset": 3, "x2Offset": 3, "yOffset": 3, "y2Offset": 3}, "encoding": {"x": {"datum": -0.105, "type": "quantitative", "axis": null}, "x2": {"datum": 1.142}, "y": {"datum": 20.0, "type": "quantitative", "axis": null}, "y2": {"datum": 3.75}}},
            {"data": {"values": [{}]}, "mark": {"type": "rect", "fill": "#ffffff", "stroke": "#222", "strokeWidth": 1.3}, "encoding": {"x": {"datum": -0.105, "type": "quantitative", "axis": null}, "x2": {"datum": 1.142}, "y": {"datum": 20.0, "type": "quantitative", "axis": null}, "y2": {"datum": 3.75}}}
          ]
        },
        {
          "data": {"name": "tables"},
          "transform": [{"filter": "datum.p == 'c'"}],
          "encoding": {"y": {"field": "m", "type": "ordinal", "scale": {"type": "point", "domain": ["head","PCE","FF","VOC","JSC"], "range": [28, 116], "padding": 0}, "axis": null}},
          "layer": [
            {"transform": [{"filter": "datum.m == 'head'"}], "mark": {"type": "text", "align": "left", "fontWeight": "bold", "color": "#1f72db"}, "encoding": {"x": {"datum": -0.09, "type": "quantitative", "axis": null}, "text": {"field": "name", "type": "nominal"}}},
            {"transform": [{"filter": "datum.m == 'head'"}], "mark": {"type": "text", "align": "left", "fontStyle": "italic"}, "encoding": {"x": {"datum": 0.653, "type": "quantitative", "axis": null}, "text": {"value": "rvs"}}},
            {"transform": [{"filter": "datum.m == 'head'"}], "mark": {"type": "text", "align": "left", "fontStyle": "italic"}, "encoding": {"x": {"datum": 0.91, "type": "quantitative", "axis": null}, "text": {"value": "fwd"}}},
            {"transform": [{"filter": "isValid(datum.label)"}], "mark": {"type": "text", "align": "left"}, "encoding": {"x": {"datum": -0.09, "type": "quantitative", "axis": null}, "text": {"field": "label", "type": "nominal"}}},
            {"transform": [{"filter": "isValid(datum.sym)"}], "mark": {"type": "text", "align": "left", "fontStyle": "italic"}, "encoding": {"x": {"datum": -0.09, "type": "quantitative", "axis": null}, "text": {"field": "sym", "type": "nominal"}}},
            {"transform": [{"filter": "datum.m == 'VOC'"}], "mark": {"type": "text", "align": "left", "fontSize": 12, "dx": 11, "dy": 5}, "encoding": {"x": {"datum": -0.09, "type": "quantitative", "axis": null}, "text": {"field": "sub", "type": "nominal"}}},
            {"transform": [{"filter": "datum.m == 'JSC'"}], "mark": {"type": "text", "align": "left", "fontSize": 12, "dx": 8.5, "dy": 5}, "encoding": {"x": {"datum": -0.09, "type": "quantitative", "axis": null}, "text": {"field": "sub", "type": "nominal"}}},
            {"transform": [{"filter": "datum.m == 'VOC'"}], "mark": {"type": "text", "align": "left", "dx": 35}, "encoding": {"x": {"datum": -0.09, "type": "quantitative", "axis": null}, "text": {"field": "unit", "type": "nominal"}}},
            {"transform": [{"filter": "datum.m == 'JSC'"}], "mark": {"type": "text", "align": "left", "dx": 29}, "encoding": {"x": {"datum": -0.09, "type": "quantitative", "axis": null}, "text": {"field": "unit", "type": "nominal"}}},
            {"transform": [{"filter": "datum.m != 'head'"}], "mark": {"type": "text", "align": "right"}, "encoding": {"x": {"datum": 0.879, "type": "quantitative", "axis": null}, "text": {"field": "rvs", "type": "nominal"}}},
            {"transform": [{"filter": "datum.m != 'head'"}], "mark": {"type": "text", "align": "right"}, "encoding": {"x": {"datum": 1.132, "type": "quantitative", "axis": null}, "text": {"field": "fwd", "type": "nominal"}}}
          ]
        }
      ]
    }
  ]
}
